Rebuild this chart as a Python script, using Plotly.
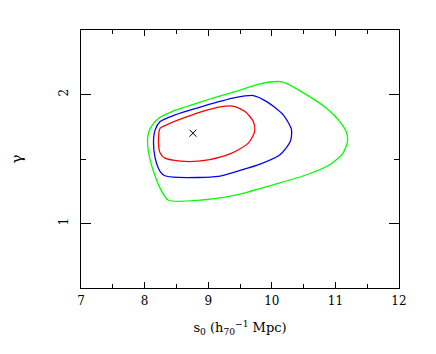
import plotly.graph_objects as go

# 68% / 90% / 99%-like confidence contours
red_x = [8.245, 8.32, 8.53, 8.90, 9.21, 9.344, 9.42, 9.58, 9.71, 9.73, 9.63, 9.37, 9.00, 8.64, 8.32, 8.245, 8.218, 8.245]
red_y = [1.739, 1.759, 1.803, 1.868, 1.906, 1.912, 1.906, 1.868, 1.79, 1.713, 1.623, 1.546, 1.494, 1.481, 1.507, 1.546, 1.649, 1.739]

blue_x = [8.245, 8.48, 8.90, 9.42, 9.71, 9.92, 10.18, 10.31, 10.29, 10.13, 9.815, 9.50, 9.16, 8.53, 8.32, 8.245, 8.166, 8.14, 8.166, 8.245]
blue_y = [1.79, 1.842, 1.906, 1.975, 1.992, 1.945, 1.842, 1.726, 1.635, 1.533, 1.46, 1.411, 1.365, 1.357, 1.37, 1.403, 1.507, 1.635, 1.726, 1.79]

green_x = [8.09, 8.22, 8.43, 8.90, 9.42, 9.815, 10.13, 10.23, 10.55, 10.86, 11.07, 11.18, 11.19, 11.12, 10.91, 10.55, 10.02, 9.50, 8.90, 8.375, 8.27, 8.14, 8.06, 8.05, 8.09]
green_y = [1.739, 1.816, 1.868, 1.945, 2.022, 2.083, 2.10, 2.087, 1.997, 1.894, 1.79, 1.70, 1.635, 1.546, 1.455, 1.378, 1.30, 1.228, 1.182, 1.18, 1.249, 1.403, 1.558, 1.674, 1.739]

best_x = [8.76]
best_y = [1.70]

x_ticks = [7, 8, 9, 10, 11, 12]
y_ticks = [1, 2]

FONT = "DejaVu Serif"

fig = go.Figure()
for xs, ys, col in [(green_x, green_y, "#00ff00"), (blue_x, blue_y, "#0000ff"), (red_x, red_y, "#ff0000")]:
    fig.add_trace(go.Scatter(x=xs, y=ys, mode="lines",
                             line=dict(color=col, width=1.3, shape="spline", smoothing=0.7),
                             hoverinfo="skip", showlegend=False))
fig.add_trace(go.Scatter(x=best_x, y=best_y, mode="markers",
                         marker=dict(symbol="x-thin", size=7, line=dict(color="black", width=1)),
                         showlegend=False))

fig.update_layout(
    width=436, height=354,
    margin=dict(l=73, r=45, t=22, b=74),
    paper_bgcolor="white", plot_bgcolor="white",
    font=dict(family=FONT, size=12, color="black"),
    xaxis=dict(range=[7, 12], tickvals=x_ticks, ticks="inside", ticklen=6, tickwidth=1,
               tickcolor="black", showline=True, linecolor="black", linewidth=1,
               mirror="ticks", showgrid=False, zeroline=False, automargin=False,
               minor=dict(dtick=0.5, ticks="inside", ticklen=4, tickcolor="black", showgrid=False),
               tickfont=dict(family=FONT, size=12), ticklabelstandoff=2,
               title=dict(text="s<sub>0</sub> (h<sub>70</sub><sup>−1</sup> Mpc)",
                          font=dict(family=FONT, size=13), standoff=15)),
    yaxis=dict(range=[0.5, 2.5], tickvals=y_ticks, ticks="inside", ticklen=10, tickwidth=1,
               tickcolor="black", showline=True, linecolor="black", linewidth=1,
               mirror="ticks", showgrid=False, zeroline=False, tickangle=-90, automargin=False,
               minor=dict(tickvals=[0.5, 1.5, 2.5], ticks="inside", ticklen=5, tickcolor="black", showgrid=False),
               tickfont=dict(family=FONT, size=12), ticklabelstandoff=7,
               title=dict(text="γ", font=dict(family=FONT, size=15), standoff=44)),
)

fig.write_html("out.html")
